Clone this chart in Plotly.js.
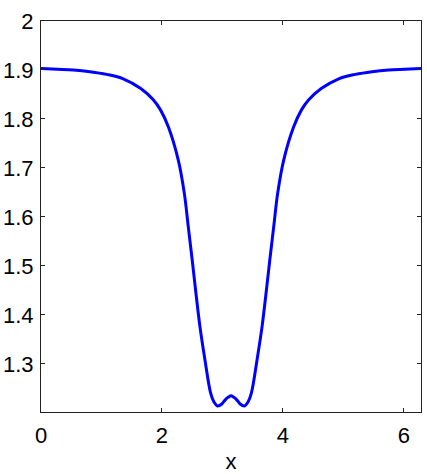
<!DOCTYPE html>
<html>
<head>
<meta charset="utf-8">
<script src="https://cdn.plot.ly/plotly-3.0.1.min.js"></script>
<style>
  html, body { margin: 0; padding: 0; background: #fff; }
  #myChart { width: 427px; height: 474px; }
</style>
</head>
<body>
<div id="myChart"></div>
<script>
// values
const xs = [0, 0.27, 0.534, 0.81, 1.086, 1.36, 1.65, 1.856, 1.978, 2.105, 2.27, 2.37, 2.435, 2.50,
	2.562, 2.628, 2.711, 2.805, 2.86, 2.92, 2.99, 3.05, 3.10, 3.1416,
	3.183, 3.233, 3.293, 3.363, 3.423, 3.478, 3.572, 3.655, 3.721, 3.783, 3.848, 3.913, 4.013,
	4.178, 4.305, 4.427, 4.633, 4.923, 5.197, 5.473, 5.749, 6.013, 6.2832];
const ys = [1.903, 1.9015, 1.900, 1.8966, 1.891, 1.882, 1.862, 1.839, 1.818, 1.784, 1.716, 1.648, 1.580, 1.512,
	1.444, 1.376, 1.308, 1.240, 1.222, 1.214, 1.218, 1.227, 1.232, 1.2347,
	1.232, 1.227, 1.218, 1.214, 1.222, 1.240, 1.308, 1.376, 1.444, 1.512, 1.580, 1.648, 1.716,
	1.784, 1.818, 1.839, 1.862, 1.882, 1.891, 1.8966, 1.900, 1.9015, 1.903];
const xTicks = [0, 2, 4, 6];
const yTicks = [1.3, 1.4, 1.5, 1.6, 1.7, 1.8, 1.9, 2];

const trace = {
	x: xs,
	y: ys,
	type: 'scatter',
	mode: 'lines',
	line: { color: '#0000ff', width: 3, shape: 'spline', smoothing: 1 },
	hoverinfo: 'none'
};

const fnt = 'Liberation Sans, Arial, sans-serif';

const axisStyle = {
	showline: true,
	linecolor: '#222',
	linewidth: 1,
	mirror: 'ticks',
	ticks: 'inside',
	ticklen: 4,
	tickcolor: '#222',
	showgrid: false,
	zeroline: false,
	tickfont: { family: fnt, size: 22, color: '#000' }
};

const layout = {
	width: 427,
	height: 474,
	margin: { l: 41, r: 6, t: 21, b: 62 },
	paper_bgcolor: '#fff',
	plot_bgcolor: '#fff',
	showlegend: false,
	xaxis: Object.assign({}, axisStyle, {
		range: [0, 6.2832],
		tickvals: xTicks,
		ticktext: xTicks.map(String),
		ticklabelstandoff: 4,
		title: { text: 'x', standoff: 6, font: { family: fnt, size: 22, color: '#000' } }
	}),
	yaxis: Object.assign({}, axisStyle, {
		range: [1.2016, 2],
		tickvals: yTicks,
		ticktext: yTicks.map(String),
		ticklabelstandoff: 2
	})
};

Plotly.newPlot('myChart', [trace], layout, { displayModeBar: false, staticPlot: true });
</script>
</body>
</html>
